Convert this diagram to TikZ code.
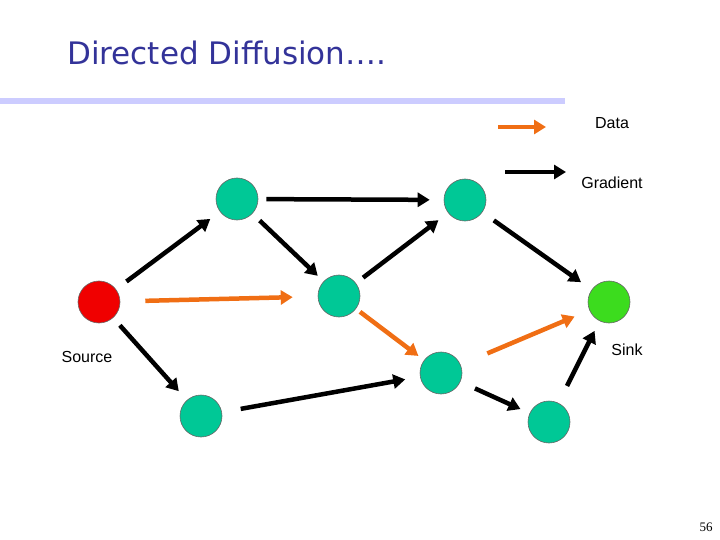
\documentclass[tikz,border=0pt]{standalone}
\usepackage{fontspec}
\setmainfont{Liberation Sans}
\usetikzlibrary{arrows.meta}
\definecolor{nodeg}{RGB}{0,200,150}
\definecolor{sinkg}{RGB}{60,220,30}
\definecolor{srcr}{RGB}{240,0,0}
\definecolor{darr}{RGB}{240,110,20}
\definecolor{ttl}{RGB}{51,51,153}
\definecolor{bar}{RGB}{204,204,255}
\begin{document}
\begin{tikzpicture}[x=1pt,y=-1pt,
  nd/.style={circle,draw=black!60,line width=0.6pt,fill=nodeg,minimum size=42pt,inner sep=0pt},
  grad/.style={line width=4.5pt,draw=black,-{Triangle[length=12pt,width=14pt]}},
  dat/.style={line width=4.5pt,draw=darr,-{Triangle[length=12pt,width=14pt]}},
  lbl/.style={font=\fontsize{16pt}{19pt}\selectfont,text=black}]
\useasboundingbox (0,0) rectangle (720,540);
\node[anchor=west,text=ttl,font=\fontspec{DejaVu Sans}\fontsize{31pt}{36pt}\selectfont,inner sep=0pt] (title) at (67,53) {Directed Diffusion….};
\fill[bar] (0,98) rectangle (565,104);
\node[nd,fill=srcr] (S) at (99,302) {};
\node[nd] (A) at (237,199) {};
\node[nd] (B) at (465,200) {};
\node[nd] (C) at (339,296) {};
\node[nd] (D) at (441,373) {};
\node[nd] (E) at (201,416) {};
\node[nd] (F) at (549,422) {};
\node[nd,fill=sinkg] (K) at (609,302) {};
\draw[grad,shorten <=13pt,shorten >=12pt] (S) -- (A);
\draw[grad,shorten <=10pt,shorten >=8pt] (A) -- (C);
\draw[grad,shorten <=8pt,shorten >=14pt] (A) -- (B);
\draw[grad,shorten <=9pt,shorten >=12pt] (C) -- (B);
\draw[grad,shorten <=14pt,shorten >=13pt] (B) -- (K);
\draw[grad,shorten <=10pt,shorten >=12pt] (S) -- (E);
\draw[grad,shorten <=19pt,shorten >=15pt] (E) -- (D);
\draw[grad,shorten <=16pt,shorten >=10pt] (D) -- (F);
\draw[grad,shorten <=19pt,shorten >=11pt] (F) -- (K);
\draw[dat,shorten <=25pt,shorten >=25pt] (S) -- (C);
\draw[dat,shorten <=5pt,shorten >=7pt] (C) -- (D);
\draw[dat,shorten <=29pt,shorten >=16pt] (D) -- (K);
\coordinate (l1a) at (498,127); \coordinate (l1b) at (546,127);
\coordinate (l2a) at (505,172); \coordinate (l2b) at (566,172);
\draw[dat] (l1a) -- (l1b);
\draw[grad] (l2a) -- (l2b);
\node[lbl] (ld) at (612,123) {Data};
\node[lbl] (lg) at (612,183) {Gradient};
\node[lbl] (ls) at (87,357) {Source};
\node[lbl] (lk) at (627,350) {Sink};
\node[font=\fontspec{Liberation Serif}\fontsize{13pt}{15pt}\selectfont] (pg) at (706,527) {56};
\end{tikzpicture}
\end{document}
